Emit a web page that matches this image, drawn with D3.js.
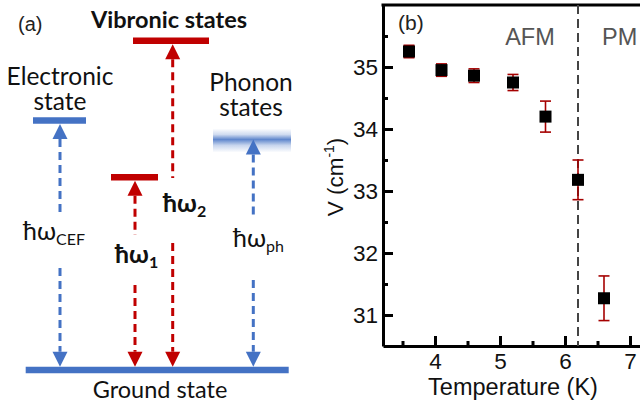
<!DOCTYPE html>
<html>
<head>
<meta charset="utf-8">
<script src="https://cdn.jsdelivr.net/npm/d3@7"></script>
<style>
  body { margin: 0; background: #fff; }
  svg { display: block; }
</style>
</head>
<body>
<svg id="svg" width="640" height="404"></svg>
<script>
// ---- data ----
var temps = [3.6, 4.1, 4.6, 5.2, 5.7, 6.2, 6.6];
var freqs = [35.25, 34.95, 34.86, 34.75, 34.20, 33.18, 31.27];
var errs  = [0.10, 0.10, 0.11, 0.13, 0.25, 0.32, 0.36];
var xTicks = [4, 5, 6, 7];
var yTicks = [31, 32, 33, 34, 35];
var tNeel = 6.2;

// schematic (a): relative energies of the levels
var stateNames    = ["Electronic", "Vibronic1", "Vibronic2", "Phonon"];
var stateEnergies = [0.758, 0.585, 1.0, 0.70];
var labelEnergies = [0.395, 0.325, 0.48, 0.373];

var svg = d3.select("#svg");
var W = 640, H = 404;

var blue = "#4472c4", red = "#c00000";
var fontA = "Lato, 'Noto Sans', sans-serif";
var fontB = "'Liberation Sans', Arial, sans-serif";

// ================= panel (a) =================
var eScale = d3.scaleLinear().domain([0, 1]).range([370, 40.7]);
// column centres / bar extents (px)
var cols = { Electronic: 60, Vibronic1: 135, Vibronic2: 172.7, Phonon: 253.3 };
var bars = { Electronic: [33, 86], Vibronic1: [111, 158], Vibronic2: [133, 209], Phonon: [213, 291] };
var colour = { Electronic: blue, Vibronic1: red, Vibronic2: red, Phonon: blue };
var gaps = { Electronic: [217, 268], Vibronic1: [235, 285], Vibronic2: [178, 243], Phonon: [217, 280] };

var gA = svg.append("g");

var defs = svg.append("defs");
var grad = defs.append("linearGradient").attr("id", "phon").attr("x1", 0).attr("y1", 0).attr("x2", 0).attr("y2", 1);
[[0, 0], [0.25, 0.25], [0.46, 0.85], [0.7, 0.3], [1, 0]].forEach(function(s) {
  grad.append("stop").attr("offset", s[0]).attr("stop-color", blue).attr("stop-opacity", s[1]);
});

// ground state
gA.append("line")
  .attr("x1", 25.7).attr("x2", 288.7)
  .attr("y1", eScale(0)).attr("y2", eScale(0))
  .attr("stroke", blue).attr("stroke-width", 6.5);

// upper levels
stateNames.forEach(function(n, i) {
  var y = eScale(stateEnergies[i]);
  if (n === "Phonon") {
    gA.append("rect")
      .attr("x", bars[n][0]).attr("width", bars[n][1] - bars[n][0])
      .attr("y", y - 11).attr("height", 24)
      .attr("fill", "url(#phon)");
  } else {
    gA.append("line")
      .attr("x1", bars[n][0]).attr("x2", bars[n][1])
      .attr("y1", y).attr("y2", y)
      .attr("stroke", colour[n]).attr("stroke-width", 6.5);
  }
});

function tri(x, tip, dir) {
  // dir = -1 -> pointing up, +1 -> pointing down
  var base = tip - dir * 15;
  return d3.line()([[x, tip], [x - 7.5, base], [x + 7.5, base]]) + "Z";
}

stateNames.forEach(function(n, i) {
  var x = cols[n], c = colour[n];
  var topTip = n === "Phonon" ? eScale(stateEnergies[i]) : eScale(stateEnergies[i]) + 3.5;
  var botTip = eScale(0) - 3.3;
  gA.append("path").attr("d", tri(x, topTip, -1)).attr("fill", c);
  gA.append("path").attr("d", tri(x, botTip, 1)).attr("fill", c);
  var segs = [[topTip + 15, gaps[n][0]], [gaps[n][1], botTip - 15]];
  segs.forEach(function(s) {
    gA.append("line")
      .attr("x1", x).attr("x2", x).attr("y1", s[0]).attr("y2", s[1])
      .attr("stroke", c).attr("stroke-width", 3)
      .attr("stroke-dasharray", "8,5");
  });
});

// transition labels
function hw(x, e, sub, bold) {
  var t = gA.append("text")
    .attr("x", x).attr("y", eScale(e))
    .attr("font-family", fontA).attr("font-size", 25)
    .attr("font-weight", bold ? "bold" : "normal")
    .attr("fill", "#111");
  t.append("tspan").text("ħω");
  t.append("tspan").attr("font-size", 16).attr("dy", 5).text(sub);
}
hw(23, labelEnergies[0], "CEF", false);
hw(115, labelEnergies[1], "1", true);
hw(163, labelEnergies[2], "2", true);
hw(233, labelEnergies[3], "ph", false);

// texts
gA.append("text").attr("x", 18).attr("y", 31)
  .attr("font-family", fontB).attr("font-size", 20).attr("fill", "#222").text("(a)");
gA.append("text").attr("x", 169).attr("y", 28).attr("text-anchor", "middle")
  .attr("font-family", fontA).attr("font-size", 23.5).attr("font-weight", "bold").attr("fill", "#111")
  .text("Vibronic states");
gA.append("text").attr("x", 60).attr("y", 85).attr("text-anchor", "middle")
  .attr("font-family", fontA).attr("font-size", 24.5).attr("fill", "#111").text("Electronic");
gA.append("text").attr("x", 60).attr("y", 110).attr("text-anchor", "middle")
  .attr("font-family", fontA).attr("font-size", 24.5).attr("fill", "#111").text("state");
gA.append("text").attr("x", 251).attr("y", 91).attr("text-anchor", "middle")
  .attr("font-family", fontA).attr("font-size", 24.5).attr("fill", "#111").text("Phonon");
gA.append("text").attr("x", 251).attr("y", 116).attr("text-anchor", "middle")
  .attr("font-family", fontA).attr("font-size", 24.5).attr("fill", "#111").text("states");
gA.append("text").attr("x", 160).attr("y", 398).attr("text-anchor", "middle")
  .attr("font-family", fontA).attr("font-size", 23.5).attr("fill", "#111").text("Ground state");

// ================= panel (b) =================
var pLeft = 383, pTop = 5, pBottom = 346;
var xScale = d3.scaleLinear().domain([3.2, 7.5]).range([pLeft, pLeft + 65 * 4.3]);
var yScale = d3.scaleLinear().domain([30.5, 36]).range([pBottom, pTop]);

var gB = svg.append("g");

// minor ticks
var xMinor = [3.5, 4.5, 5.5, 6.5];
var yMinor = [31.5, 32.5, 33.5, 34.5, 35.5];

gB.append("g")
  .attr("transform", "translate(0," + pBottom + ")")
  .call(d3.axisBottom(xScale).tickValues(xMinor).tickSize(-5).tickFormat(""))
  .call(function(g) { g.select(".domain").remove(); })
  .selectAll("line").attr("stroke", "#000").attr("stroke-width", 3);
gB.append("g")
  .attr("transform", "translate(" + pLeft + ",0)")
  .call(d3.axisLeft(yScale).tickValues(yMinor).tickSize(-5).tickFormat(""))
  .call(function(g) { g.select(".domain").remove(); })
  .selectAll("line").attr("stroke", "#000").attr("stroke-width", 3);

var xAxis = gB.append("g")
  .attr("transform", "translate(0," + pBottom + ")")
  .call(d3.axisBottom(xScale).tickValues(xTicks).tickFormat(d3.format("d"))
    .tickSizeInner(-10).tickSizeOuter(0).tickPadding(7));
var yAxis = gB.append("g")
  .attr("transform", "translate(" + pLeft + ",0)")
  .call(d3.axisLeft(yScale).tickValues(yTicks).tickFormat(d3.format("d"))
    .tickSizeInner(-10).tickSizeOuter(0).tickPadding(5));

[xAxis, yAxis].forEach(function(a) {
  a.select(".domain").attr("stroke", "#000").attr("stroke-width", 3);
  a.selectAll(".tick line").attr("stroke", "#000").attr("stroke-width", 3);
  a.selectAll(".tick text").attr("font-family", fontB).attr("font-size", 22.5).attr("fill", "#111");
});

// top frame
gB.append("line")
  .attr("x1", pLeft - 1.5).attr("x2", W)
  .attr("y1", yScale(36)).attr("y2", yScale(36))
  .attr("stroke", "#000").attr("stroke-width", 3);

// transition line
gB.append("line")
  .attr("x1", xScale(tNeel)).attr("x2", xScale(tNeel))
  .attr("y1", yScale(36)).attr("y2", pBottom)
  .attr("stroke", "#444").attr("stroke-width", 2).attr("stroke-dasharray", "9,5");

// error bars
var eb = gB.selectAll(".err").data(temps).enter().append("g").attr("class", "err");
eb.append("line")
  .attr("x1", function(d) { return xScale(d); }).attr("x2", function(d) { return xScale(d); })
  .attr("y1", function(d, i) { return yScale(freqs[i] + errs[i]); })
  .attr("y2", function(d, i) { return yScale(freqs[i] - errs[i]); })
  .attr("stroke", "#a50000").attr("stroke-width", 1.6);
[1, -1].forEach(function(s) {
  eb.append("line")
    .attr("x1", function(d) { return xScale(d) - 5.5; }).attr("x2", function(d) { return xScale(d) + 5.5; })
    .attr("y1", function(d, i) { return yScale(freqs[i] + s * errs[i]); })
    .attr("y2", function(d, i) { return yScale(freqs[i] + s * errs[i]); })
    .attr("stroke", "#a50000").attr("stroke-width", 1.6);
});

// markers
gB.selectAll(".pt").data(temps).enter().append("rect")
  .attr("class", "pt")
  .attr("x", function(d) { return xScale(d) - 6; })
  .attr("y", function(d, i) { return yScale(freqs[i]) - 6; })
  .attr("width", 12).attr("height", 12)
  .attr("fill", "#000");

// labels
gB.append("text").attr("x", 398).attr("y", 30)
  .attr("font-family", fontB).attr("font-size", 21).attr("fill", "#222").text("(b)");
gB.append("text").attr("x", 530).attr("y", 45).attr("text-anchor", "middle")
  .attr("font-family", fontB).attr("font-size", 23.5).attr("fill", "#555").text("AFM");
gB.append("text").attr("x", 602).attr("y", 45)
  .attr("font-family", fontB).attr("font-size", 23.5).attr("fill", "#555").text("PM");

gB.append("text").attr("x", 513).attr("y", 395)
  .attr("text-anchor", "middle")
  .attr("font-family", fontB).attr("font-size", 23.5).attr("fill", "#111")
  .text("Temperature (K)");

var yl = gB.append("text")
  .attr("transform", "translate(343,177) rotate(-90)")
  .attr("text-anchor", "middle")
  .attr("font-family", fontB).attr("font-size", 22.5).attr("fill", "#111");
yl.append("tspan").text("V (cm");
yl.append("tspan").attr("font-size", 14).attr("dy", -9).text("-1");
yl.append("tspan").attr("dy", 9).text(")");
</script>
</body>
</html>
